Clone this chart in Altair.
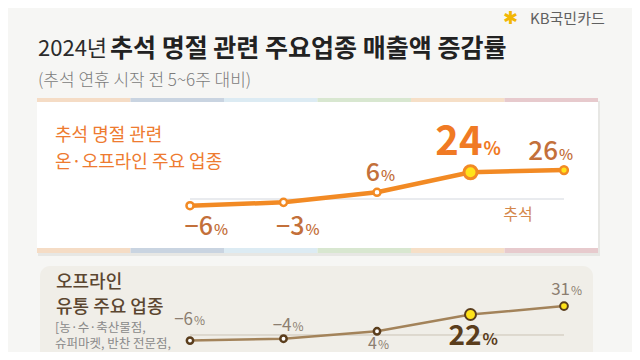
import altair as alt
import pandas as pd

# ---------------- data ----------------
point_order = [0, 1, 2, 3, 4]                 # five weekly comparison points
online_offline_pct = [-6, -3, 6, 24, 26]      # 추석 명절 관련 온·오프라인 주요 업종
offline_retail_pct = [-6, -4, 4, 22, 31]      # 오프라인 유통 주요 업종

title_light = "2024년"
title_bold = "추석 명절 관련 주요업종 매출액 증감률"
subtitle = "(추석 연휴 시작 전 5~6주 대비)"
panel1_title = ["추석 명절 관련", "온·오프라인 주요 업종"]
panel1_marker = "추석"
panel2_title = ["오프라인", "유통 주요 업종"]
panel2_note = ["[농·수·축산물점,", "슈퍼마켓, 반찬 전문점,", "백화점, 대형마트]"]
brand = "KB국민카드"

strip_colors = ["#f5dcc5", "#c9d4e1", "#dcebf3", "#d8e7d0", "#f6dfc7", "#e7cacd"]


def fmt(v):
    return str(v).replace("-", "\u2212")


df = pd.DataFrame({
    "i": point_order,
    "a": online_offline_pct,
    "b": offline_retail_pct,
})
df["a_txt"] = [fmt(v) for v in online_offline_pct]
df["b_txt"] = [fmt(v) for v in offline_retail_pct]
base_df = pd.DataFrame({"i0": [min(point_order)], "i1": [max(point_order)], "z": [0]})

KR = "Noto Sans CJK KR"
NUM = "Noto Sans CJK KR"

xs = alt.Scale(domain=[0, 4], range=[182, 556], nice=False, zero=False)
ys1 = alt.Scale(domain=[-10, 30], range=[202.15, 157.55], nice=False, zero=False)
ys2 = alt.Scale(domain=[-10, 40], range=[336.32, 289.72], nice=False, zero=False)

X = alt.X("i:Q", scale=xs, axis=None)
Y1 = alt.Y("a:Q", scale=ys1, axis=None)
Y2 = alt.Y("b:Q", scale=ys2, axis=None)

one = alt.Data(values=[{}])
layers = []


def box(x0, x1, y0, y1, color, radius=0):
    return alt.Chart(one).mark_rect(color=color, cornerRadius=radius).encode(
        x=alt.value(x0), x2=alt.value(x1), y=alt.value(y0), y2=alt.value(y1))


def txt(s, x, y, size, color, weight="normal", align="left", font=KR):
    return alt.Chart(one).mark_text(
        align=align, baseline="middle", fontSize=size, fontWeight=weight,
        color=color, font=font).encode(x=alt.value(x), y=alt.value(y), text=alt.value(s))


# header
layers.append(txt("\u2731", 495, 11, 18, "#f2b705", font="DejaVu Sans"))
layers.append(txt(brand, 522, 11, 15, "#606060"))
layers.append(txt(title_light, 30, 41, 22, "#2b2b2b", weight=400))
layers.append(txt(title_bold, 102, 41, 25, "#222222", weight="bold"))
layers.append(txt(subtitle, 30, 73, 17, "#7b7b7b", weight=300))

# panel 1 background
layers.append(box(30, 592, 93, 248, "#e7e7e4"))
layers.append(box(29, 590, 92, 245, "#ffffff"))
w = (590 - 29) / 6
for k, c in enumerate(strip_colors):
    layers.append(box(29 + k * w, 29 + (k + 1) * w, 90, 94, c))
    layers.append(box(29 + k * w, 29 + (k + 1) * w, 240, 245, c))
layers.append(txt(panel1_title[0], 47, 128, 18, "#ee7b30"))
layers.append(txt(panel1_title[1], 47, 155, 18, "#ee7b30"))
layers.append(txt(panel1_marker, 510, 207, 16, "#d4874c", align="center"))

# panel 2 background
layers.append(box(32, 585, 258, 360, "#f0eee8", radius=10))
layers.append(txt(panel2_title[0], 48, 275, 18, "#5b4630", weight=500))
layers.append(txt(panel2_title[1], 48, 300, 18, "#5b4630", weight=500))
for k, s in enumerate(panel2_note):
    layers.append(txt(s, 47, 320 + 16 * k, 12.5, "#8a8a8a"))

# baselines
layers.append(alt.Chart(base_df).mark_rule(color="#d3d7de", strokeWidth=1).encode(
    x=alt.X("i0:Q", scale=xs, axis=None), x2="i1:Q",
    y=alt.Y("z:Q", scale=ys1, axis=None)))
layers.append(alt.Chart(base_df).mark_rule(color="#cbc3b5", strokeWidth=1).encode(
    x=alt.X("i0:Q", scale=xs, axis=None), x2="i1:Q",
    y=alt.Y("z:Q", scale=ys2, axis=None)))

base = alt.Chart(df)

# lines
layers.append(base.mark_line(color="#f28a24", strokeWidth=4.5).encode(x=X, y=Y1))
layers.append(base.mark_line(color="#a3835a", strokeWidth=2.5).encode(x=X, y=Y2))

# points panel 1
layers.append(base.transform_filter("datum.i < 3").mark_point(
    shape="circle", filled=True, fill="#ffffff", stroke="#f28a24", strokeWidth=2.5,
    size=50, opacity=1).encode(x=X, y=Y1))
layers.append(base.transform_filter("datum.i == 3").mark_point(
    shape="circle", filled=True, fill="#ffe31a", stroke="#f28a24", strokeWidth=3,
    size=170, opacity=1).encode(x=X, y=Y1))
layers.append(base.transform_filter("datum.i == 4").mark_point(
    shape="circle", filled=True, fill="#ffe31a", stroke="#f28a24", strokeWidth=2.5,
    size=60, opacity=1).encode(x=X, y=Y1))

# points panel 2
layers.append(base.transform_filter("datum.i < 3").mark_point(
    shape="circle", filled=True, fill="#ffffff", stroke="#5a3d1c", strokeWidth=2.5,
    size=40, opacity=1).encode(x=X, y=Y2))
layers.append(base.transform_filter("datum.i == 3").mark_point(
    shape="circle", filled=True, fill="#ffe31a", stroke="#5a3d1c", strokeWidth=2,
    size=120, opacity=1).encode(x=X, y=Y2))
layers.append(base.transform_filter("datum.i == 4").mark_point(
    shape="circle", filled=True, fill="#ffe31a", stroke="#5a3d1c", strokeWidth=2,
    size=60, opacity=1).encode(x=X, y=Y2))

# value labels: (dx, dy, number size, % size, color, weight)
style1 = [
    (23, 29, 25, 15, "#c3703a", 500),
    (21, 33, 25, 15, "#c3703a", 500),
    (3, -11, 25, 15, "#c3703a", 500),
    (12, -17, 40, 18, "#f07a24", "bold"),
    (-6, -10, 26, 15, "#c3703a", 500),
]
style2 = [
    (3, -16, 17, 12, "#8c7e70", "normal"),
    (8, -8, 17, 12, "#8c7e70", "normal"),
    (0, 18, 16, 12, "#8c7e70", "normal"),
    (11, 31, 28, 16, "#5a3d1c", "bold"),
    (6, -11, 17, 12, "#8c7e70", "normal"),
]


def labels(field, Y, styles):
    out = []
    for i, (dx, dy, s, ps, col, wt) in enumerate(styles):
        sub = base.transform_filter(f"datum.i == {i}")
        out.append(sub.mark_text(align="right", baseline="alphabetic", dx=dx, dy=dy,
                                 fontSize=s, fontWeight=wt, color=col, font=NUM).encode(
            x=X, y=Y, text=f"{field}_txt:N"))
        out.append(sub.mark_text(align="left", baseline="alphabetic", dx=dx + 1, dy=dy,
                                 fontSize=ps, fontWeight=wt, color=col, font=NUM).encode(
            x=X, y=Y, text=alt.value("%")))
    return out


layers += labels("a", Y1, style1)
layers += labels("b", Y2, style2)

chart = alt.layer(*layers).resolve_scale(y="independent").properties(
    width=624, height=344, autosize="none", padding=0, background="#f6f6f4"
).configure_view(stroke=None)

chart.save("out.html", embed_options={"renderer": "svg", "actions": False})
